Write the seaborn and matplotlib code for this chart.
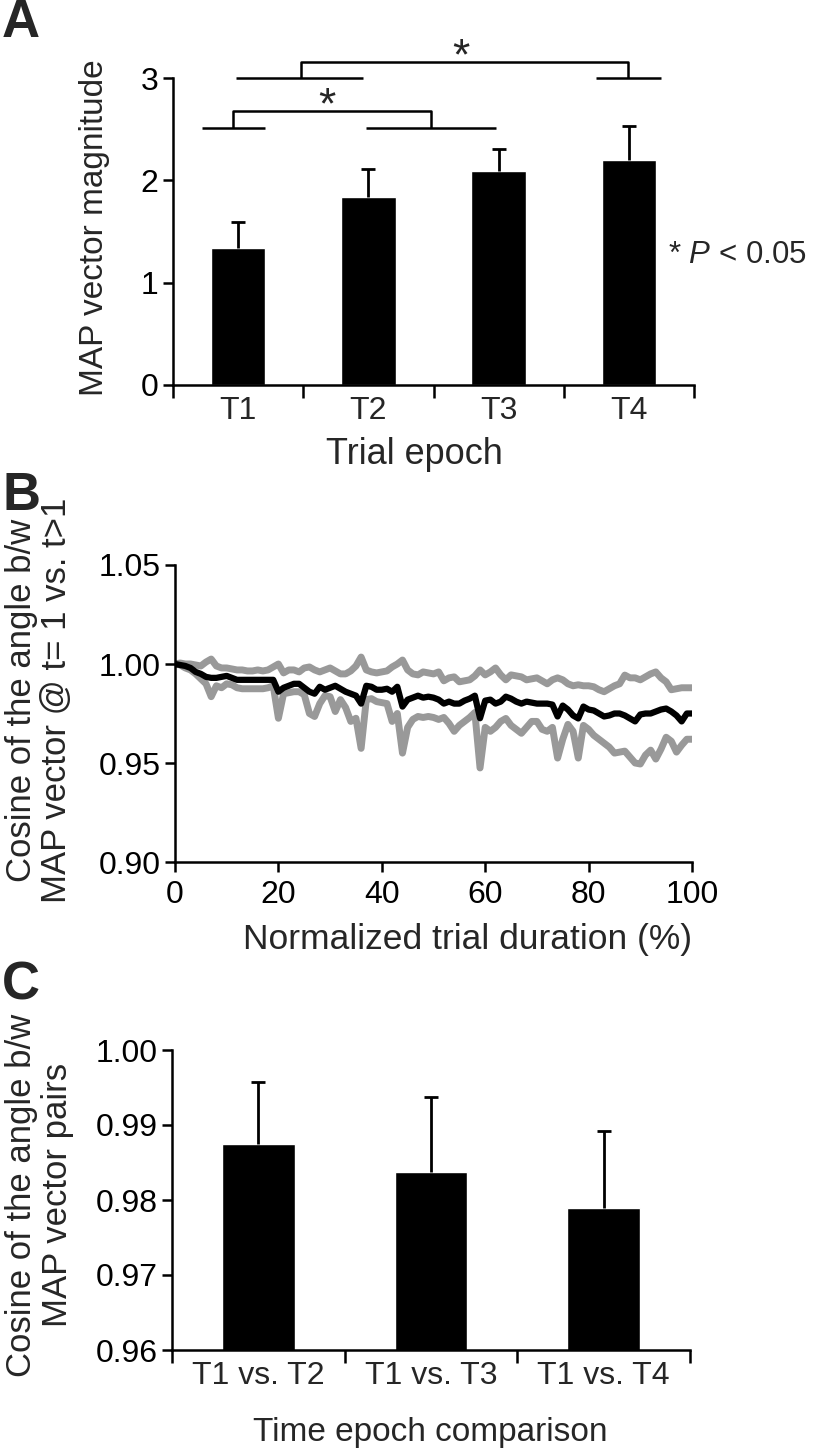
import matplotlib
matplotlib.use("Agg")
import matplotlib.pyplot as plt
import pandas as pd
import seaborn as sns

# ---- panel A: MAP vector magnitude per trial epoch
epochs = ["T1", "T2", "T3", "T4"]
map_mag = [1.34, 1.84, 2.09, 2.20]
map_mag_err = [0.25, 0.27, 0.22, 0.33]

# ---- panel B: cosine of angle vs normalized trial duration
duration = list(range(101))
cos_mean = [1.000, 0.9995, 0.999, 0.998, 0.996, 0.995, 0.9935, 0.993, 0.993, 0.9935,
            0.994, 0.993, 0.992, 0.992, 0.992, 0.992, 0.992, 0.992, 0.992, 0.992,
            0.986, 0.988, 0.989, 0.990, 0.990, 0.988, 0.986, 0.985, 0.9885, 0.987,
            0.988, 0.989, 0.9875, 0.986, 0.985, 0.984, 0.980, 0.989, 0.9885, 0.987,
            0.987, 0.9875, 0.986, 0.9885, 0.9785, 0.982, 0.983, 0.984, 0.983, 0.9835,
            0.983, 0.982, 0.980, 0.981, 0.980, 0.980, 0.9815, 0.9825, 0.984, 0.9726,
            0.9815, 0.982, 0.980, 0.981, 0.9835, 0.9825, 0.981, 0.980, 0.981, 0.9805,
            0.980, 0.980, 0.980, 0.9795, 0.9735, 0.979, 0.977, 0.974, 0.9725, 0.9785,
            0.977, 0.9765, 0.975, 0.9735, 0.974, 0.975, 0.975, 0.974, 0.9725, 0.971,
            0.9745, 0.975, 0.975, 0.976, 0.977, 0.9775, 0.976, 0.974, 0.971, 0.975,
            0.975]
cos_upper = [1.000, 1.0005, 1.000, 1.000, 0.9995, 0.999, 1.001, 1.0025, 0.999, 0.998,
             0.998, 0.9975, 0.997, 0.997, 0.9965, 0.9965, 0.997, 0.9965, 0.997, 0.9985,
             1.000, 0.9955, 0.997, 0.997, 0.996, 0.998, 0.9985, 0.997, 0.996, 0.997,
             0.998, 0.9965, 0.995, 0.995, 0.9965, 0.999, 1.0035, 0.997, 0.996, 0.9955,
             0.996, 0.9965, 0.9985, 1.000, 1.002, 0.997, 0.995, 0.9945, 0.996, 0.9955,
             0.995, 0.996, 0.9915, 0.993, 0.9935, 0.991, 0.9915, 0.992, 0.994, 0.997,
             0.9945, 0.996, 0.998, 0.9945, 0.992, 0.9945, 0.994, 0.9935, 0.992, 0.9925,
             0.993, 0.9915, 0.990, 0.992, 0.993, 0.992, 0.990, 0.989, 0.9895, 0.989,
             0.989, 0.9885, 0.987, 0.986, 0.9875, 0.989, 0.990, 0.9944, 0.993, 0.993,
             0.992, 0.9935, 0.995, 0.996, 0.993, 0.991, 0.987, 0.9875, 0.988, 0.988,
             0.988]
cos_lower = [1.000, 0.9995, 0.998, 0.997, 0.995, 0.9925, 0.990, 0.9835, 0.989, 0.988,
             0.990, 0.9895, 0.988, 0.9875, 0.9875, 0.9875, 0.9875, 0.9875, 0.988, 0.989,
             0.9726, 0.985, 0.9855, 0.986, 0.986, 0.9845, 0.975, 0.9735, 0.980, 0.984,
             0.9835, 0.976, 0.982, 0.978, 0.971, 0.9726, 0.9574, 0.982, 0.9825, 0.981,
             0.9805, 0.980, 0.971, 0.975, 0.955, 0.968, 0.972, 0.9735, 0.973, 0.9735,
             0.973, 0.972, 0.973, 0.970, 0.966, 0.969, 0.971, 0.973, 0.9755, 0.9475,
             0.968, 0.966, 0.968, 0.971, 0.9725, 0.969, 0.967, 0.965, 0.968, 0.971,
             0.971, 0.967, 0.966, 0.968, 0.9525, 0.962, 0.9695, 0.966, 0.9525, 0.969,
             0.967, 0.964, 0.962, 0.960, 0.958, 0.955, 0.9555, 0.956, 0.953, 0.950,
             0.9495, 0.954, 0.9565, 0.952, 0.957, 0.963, 0.961, 0.9555, 0.959, 0.962,
             0.962]

# ---- panel C: cosine between MAP vector pairs
comparisons = ["T1 vs. T2", "T1 vs. T3", "T1 vs. T4"]
cos_pairs = [0.9875, 0.9837, 0.9789]
cos_pairs_err = [0.0083, 0.0100, 0.0103]

# significance brackets for panel A (category units, value units)
bracket_low = dict(y0=2.51, y1=2.68, left=(-0.28, 0.21), right=(0.98, 1.98), xa=-0.04, xb=1.48, star=(0.68, 2.72))
bracket_high = dict(y0=3.0, y1=3.16, left=(-0.02, 0.96), right=(2.75, 3.25), xa=0.48, xb=2.99, star=(1.71, 3.20))

sns.set_style("white")
plt.rcParams["font.family"] = ["Liberation Sans", "DejaVu Sans"]
plt.rcParams["mathtext.fontset"] = "custom"
plt.rcParams["mathtext.rm"] = "Liberation Sans"
plt.rcParams["mathtext.it"] = "Liberation Sans:italic"

W, H = 816, 1452
fig = plt.figure(figsize=(W / 100, H / 100), dpi=100)


def box(x0, y0, x1, y1):
    # pixel box (top-left origin) -> figure fraction
    return [x0 / W, 1 - y1 / H, (x1 - x0) / W, (y1 - y0) / H]


def ftext(x, y, s, **kw):
    fig.text(x / W, 1 - y / H, s, **kw)


TICK = 23
LAB = 24


def style_axis(ax):
    sns.despine(ax=ax)
    for s in ["left", "bottom"]:
        ax.spines[s].set_linewidth(1.8)
        ax.spines[s].set_color("black")
    ax.tick_params(axis="both", direction="out", length=7, width=1.8, colors="black",
                   labelsize=TICK, left=True, bottom=True)


def cat_axis(ax, labels):
    n = len(labels)
    ax.set_xlim(-0.5, n - 0.5)
    ax.set_xticks([i - 0.5 for i in range(n + 1)])
    ax.set_xticklabels([])
    ax.set_xticks(range(n), minor=True)
    ax.set_xticklabels(labels, minor=True, fontsize=TICK)
    ax.tick_params(axis="x", which="minor", length=0, pad=8)
    ax.tick_params(axis="x", which="major", length=9)
    ax.set_xlabel("")


def up_errors(ax, vals, errs):
    eb = ax.errorbar(range(len(vals)), vals, yerr=[[0] * len(vals), errs], fmt="none",
                     ecolor="black", elinewidth=2, capsize=5, capthick=2)
    eb[1][0].set_visible(False)  # hide the cap sitting on the bar top


# ---------------- A
axA = fig.add_axes(box(173, 78, 694, 385))
dfA = pd.DataFrame({"epoch": epochs, "mag": map_mag})
sns.barplot(data=dfA, x="epoch", y="mag", color="black", saturation=1, width=0.42,
            errorbar=None, ax=axA)
up_errors(axA, map_mag, map_mag_err)
style_axis(axA)
axA.set_ylim(0, 3)
axA.set_yticks([0, 1, 2, 3])
axA.set_ylabel("")
cat_axis(axA, epochs)

for b in (bracket_low, bracket_high):
    kw = dict(color="black", lw=1.8, clip_on=False, solid_capstyle="butt")
    axA.plot(b["left"], [b["y0"]] * 2, **kw)
    axA.plot(b["right"], [b["y0"]] * 2, **kw)
    axA.plot([b["xa"], b["xa"], b["xb"], b["xb"]], [b["y0"], b["y1"], b["y1"], b["y0"]], **kw)
    axA.text(b["star"][0], b["star"][1], "*", ha="center", va="center", fontsize=32,
             clip_on=False)

ftext(95, 228, "MAP vector magnitude", rotation=90, ha="center", va="center", fontsize=LAB)
ftext(414, 455, "Trial epoch", ha="center", va="center", fontsize=26)
ftext(668, 255, r"* $\mathit{P}$ < 0.05", ha="left", va="center", fontsize=22.5)

# ---------------- B
axB = fig.add_axes(box(175, 565, 692, 862))
sns.lineplot(x=duration, y=cos_upper, color="#999999", lw=5, ax=axB)
sns.lineplot(x=duration, y=cos_lower, color="#999999", lw=5, ax=axB)
sns.lineplot(x=duration, y=cos_mean, color="black", lw=4.5, ax=axB)
style_axis(axB)
axB.set_xlim(0, 100)
axB.set_ylim(0.90, 1.05)
axB.set_xticks(range(0, 101, 20))
axB.set_yticks([0.90, 0.95, 1.00, 1.05])
axB.set_yticklabels(["0.90", "0.95", "1.00", "1.05"])
axB.tick_params(axis="x", pad=6)

ftext(22, 700, "Cosine of the angle b/w", rotation=90, ha="center", va="center", fontsize=25)
ftext(57, 700, "MAP vector @ t= 1 vs. t>1", rotation=90, ha="center", va="center", fontsize=25)
ftext(468, 940, "Normalized trial duration (%)", ha="center", va="center", fontsize=25.5)

# ---------------- C
axC = fig.add_axes(box(172, 1050, 690, 1350))
dfC = pd.DataFrame({"comp": comparisons, "cos": cos_pairs})
sns.barplot(data=dfC, x="comp", y="cos", color="black", saturation=1, width=0.42,
            errorbar=None, ax=axC)
up_errors(axC, cos_pairs, cos_pairs_err)
style_axis(axC)
axC.set_ylim(0.96, 1.00)
axC.set_yticks([0.96, 0.97, 0.98, 0.99, 1.00])
axC.set_yticklabels(["0.96", "0.97", "0.98", "0.99", "1.00"])
axC.set_ylabel("")
cat_axis(axC, comparisons)

ftext(22, 1195, "Cosine of the angle b/w", rotation=90, ha="center", va="center", fontsize=25)
ftext(57, 1195, "MAP vector pairs", rotation=90, ha="center", va="center", fontsize=25)
ftext(430, 1432, "Time epoch comparison", ha="center", va="center", fontsize=LAB)

# panel letters
for letter, y in [("A", 23), ("B", 496), ("C", 985)]:
    ftext(2, y, letter, ha="left", va="center", fontsize=38, fontweight="bold",
          family=["Liberation Sans Narrow", "Liberation Sans", "DejaVu Sans"])

fig.savefig("out.png", dpi=100)
